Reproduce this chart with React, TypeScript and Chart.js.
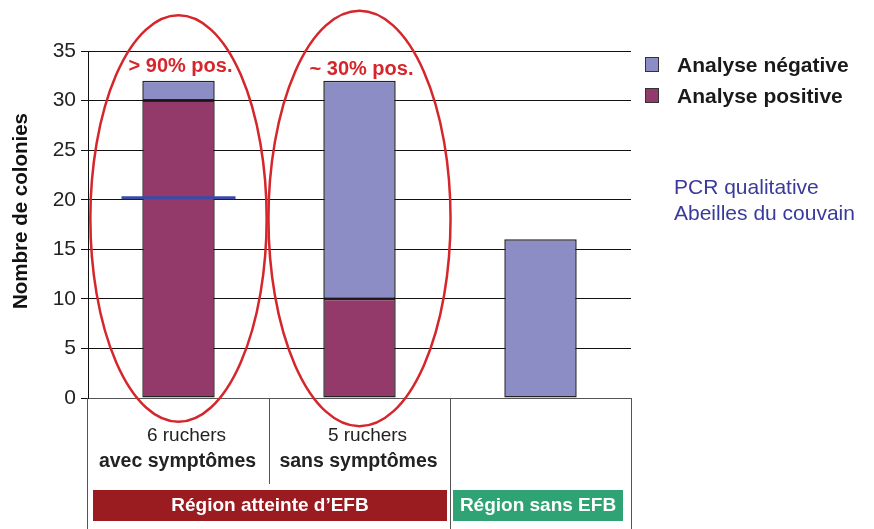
import React, { useEffect, useRef } from "react";
import { Chart, registerables } from "chart.js";

Chart.register(...registerables);

// ---------- data ----------
const categories = ["avec symptômes", "sans symptômes", "sans EFB"];
const positiveValues = [30, 10, 0];
const negativeValues = [2, 22, 16];
const seriesLabels = ["Analyse positive", "Analyse négative"];
const yMin = 0;
const yMax = 35;
const yStep = 5;
const yTitle = "Nombre de colonies";
const categoryCounts = ["6 ruchers", "5 ruchers", ""];
const categoryStatus = ["avec symptômes", "sans symptômes", ""];
const groupLabels = ["Région atteinte d’EFB", "Région sans EFB"];
const groupFirstCategory = [0, 2];
const groupLastCategory = [1, 2];
const annotationTexts = ["> 90% pos.", "~ 30% pos."];
const thresholdCategory = 0;
const thresholdValue = 20.2;
const noteLines = ["PCR qualitative", "Abeilles du couvain"];

// ---------- styles ----------
const FONT = "'Liberation Sans', Arial, Helvetica, sans-serif";
const POS_COLOR = "#933a6b";
const NEG_COLOR = "#8d8dc6";
const RED = "#d4262b";
const BLUE_LINE = "#3b4aa6";
const NOTE_BLUE = "#3a3a9c";

const overlayPlugin = {
  id: "overlay",
  afterDatasetsDraw(chart: any) {
    const ctx = chart.ctx as CanvasRenderingContext2D;
    const x = chart.scales.x;
    const y = chart.scales.y;
    const area = chart.chartArea;
    const catW = x.getPixelForValue(1) - x.getPixelForValue(0);
    const H = chart.height;

    ctx.save();
    // y-axis title
    ctx.save();
    ctx.translate(21, 211);
    ctx.rotate(-Math.PI / 2);
    ctx.fillStyle = "#111";
    ctx.font = `bold 20.5px ${FONT}`;
    ctx.textAlign = "center";
    ctx.textBaseline = "middle";
    ctx.fillText(yTitle, 0, 0);
    ctx.restore();

    // threshold line
    const tx = x.getPixelForValue(thresholdCategory);
    const ty = y.getPixelForValue(thresholdValue);
    ctx.strokeStyle = BLUE_LINE;
    ctx.lineWidth = 3;
    ctx.beginPath();
    ctx.moveTo(tx - catW * 0.315, ty);
    ctx.lineTo(tx + catW * 0.315, ty);
    ctx.stroke();

    // ellipses
    const ell = [
      { rx: 0.487, cy: 18.1, ry: 20.5 },
      { rx: 0.503, cy: 18.1, ry: 20.95 },
    ];
    ctx.strokeStyle = RED;
    ctx.lineWidth = 2.5;
    ell.forEach((e, i) => {
      const cx = x.getPixelForValue(i);
      const cy = y.getPixelForValue(e.cy);
      const ry = y.getPixelForValue(0) - y.getPixelForValue(e.ry);
      ctx.beginPath();
      ctx.ellipse(cx, cy, catW * e.rx, ry, 0, 0, Math.PI * 2);
      ctx.stroke();
    });

    // annotation texts
    ctx.fillStyle = RED;
    ctx.font = `bold 20px ${FONT}`;
    ctx.textAlign = "center";
    ctx.textBaseline = "middle";
    annotationTexts.forEach((t, i) => {
      const cx = x.getPixelForValue(i) + 2;
      ctx.fillText(t, cx, i === 0 ? 66 : 69);
    });

    // table below axis
    const axisY = area.bottom;
    ctx.strokeStyle = "#555";
    ctx.lineWidth = 1;
    const vline = (px: number, y1: number, y2: number) => {
      ctx.beginPath();
      ctx.moveTo(Math.round(px) + 0.5, y1);
      ctx.lineTo(Math.round(px) + 0.5, y2);
      ctx.stroke();
    };
    vline(area.left - 1, axisY, H);
    for (let i = 0; i < categories.length - 1; i++) {
      const bx = (x.getPixelForValue(i) + x.getPixelForValue(i + 1)) / 2;
      const inGroup = groupFirstCategory.some((f, g) => i >= f && i < groupLastCategory[g]);
      vline(bx, axisY, inGroup ? 484 : H);
    }
    vline(area.right, axisY, H);

    // category labels
    ctx.fillStyle = "#222";
    ctx.textBaseline = "alphabetic";
    categories.forEach((_, i) => {
      const cx = x.getPixelForValue(i);
      ctx.font = `19px ${FONT}`;
      ctx.fillText(categoryCounts[i], cx + 8, 441);
      ctx.font = `bold 19.5px ${FONT}`;
      ctx.fillText(categoryStatus[i], cx - 1, 467);
    });

    // group boxes
    const groupColors = ["#9a1b20", "#2fa374"];
    groupLabels.forEach((g, gi) => {
      const first = groupFirstCategory[gi];
      const last = groupLastCategory[gi];
      const left = x.getPixelForValue(first) - catW / 2 + (gi === 0 ? 5 : 3);
      const right = x.getPixelForValue(last) + catW / 2 - (gi === 0 ? 3 : 8);
      ctx.fillStyle = groupColors[gi];
      ctx.fillRect(left, 490, right - left, 31);
      ctx.fillStyle = "#fff";
      ctx.font = `bold 19px ${FONT}`;
      ctx.textAlign = "center";
      ctx.textBaseline = "middle";
      ctx.fillText(g, (left + right) / 2, 506);
    });

    // legend (negative first, then positive)
    const ds = chart.data.datasets;
    const order = [1, 0];
    ctx.textAlign = "left";
    ctx.textBaseline = "middle";
    order.forEach((di, k) => {
      const ly = 65 + k * 31;
      ctx.fillStyle = ds[di].backgroundColor;
      ctx.fillRect(645.5, ly - 7.5, 13, 14);
      ctx.strokeStyle = "#333";
      ctx.lineWidth = 1;
      ctx.strokeRect(645.5, ly - 7.5, 13, 14);
      ctx.fillStyle = "#1a1a1a";
      ctx.font = `bold 21px ${FONT}`;
      ctx.fillText(ds[di].label, 677, ly + 1);
    });

    // note
    ctx.fillStyle = NOTE_BLUE;
    ctx.font = `21px ${FONT}`;
    noteLines.forEach((t, i) => ctx.fillText(t, 674, 188 + i * 26));
    ctx.restore();
  },
};

export default function App() {
  const ref = useRef<HTMLCanvasElement>(null);
  useEffect(() => {
    document.body.style.margin = "0";
    const chart = new Chart(ref.current!, {
      type: "bar",
      data: {
        labels: categories,
        datasets: [
          {
            label: seriesLabels[0],
            data: positiveValues,
            backgroundColor: POS_COLOR,
            borderColor: "#222",
            borderWidth: 1.5,
            borderSkipped: false,
          },
          {
            label: seriesLabels[1],
            data: negativeValues,
            backgroundColor: NEG_COLOR,
            borderColor: "#222",
            borderWidth: 1.5,
            borderSkipped: false,
          },
        ],
      },
      options: {
        responsive: false,
        animation: false,
        events: [],
        datasets: { bar: { barPercentage: 0.4, categoryPercentage: 1 } },
        layout: { padding: { left: 0, top: 51, right: 243, bottom: 0 } },
        plugins: { legend: { display: false }, tooltip: { enabled: false } },
        scales: {
          x: {
            stacked: true,
            ticks: { display: false },
            grid: { display: false },
            border: { display: true, color: "#555", width: 1 },
            afterFit: (s: any) => {
              s.height = 131;
            },
          },
          y: {
            stacked: true,
            min: yMin,
            max: yMax,
            ticks: {
              stepSize: yStep,
              color: "#222",
              font: { family: FONT, size: 21 },
              padding: 5,
            },
            grid: { color: "#111", lineWidth: 1, tickLength: 7 },
            border: { display: true, color: "#111", width: 1 },
            title: { display: false },
            afterFit: (s: any) => {
              s.width = 88;
            },
          },
        },
      },
      plugins: [overlayPlugin],
    });
    return () => chart.destroy();
  }, []);
  return (
    <div style={{ position: "fixed", left: 0, top: 0, width: 874, height: 529, background: "#fff" }}>
      <canvas ref={ref} width={874} height={529} style={{ display: "block" }} />
    </div>
  );
}
